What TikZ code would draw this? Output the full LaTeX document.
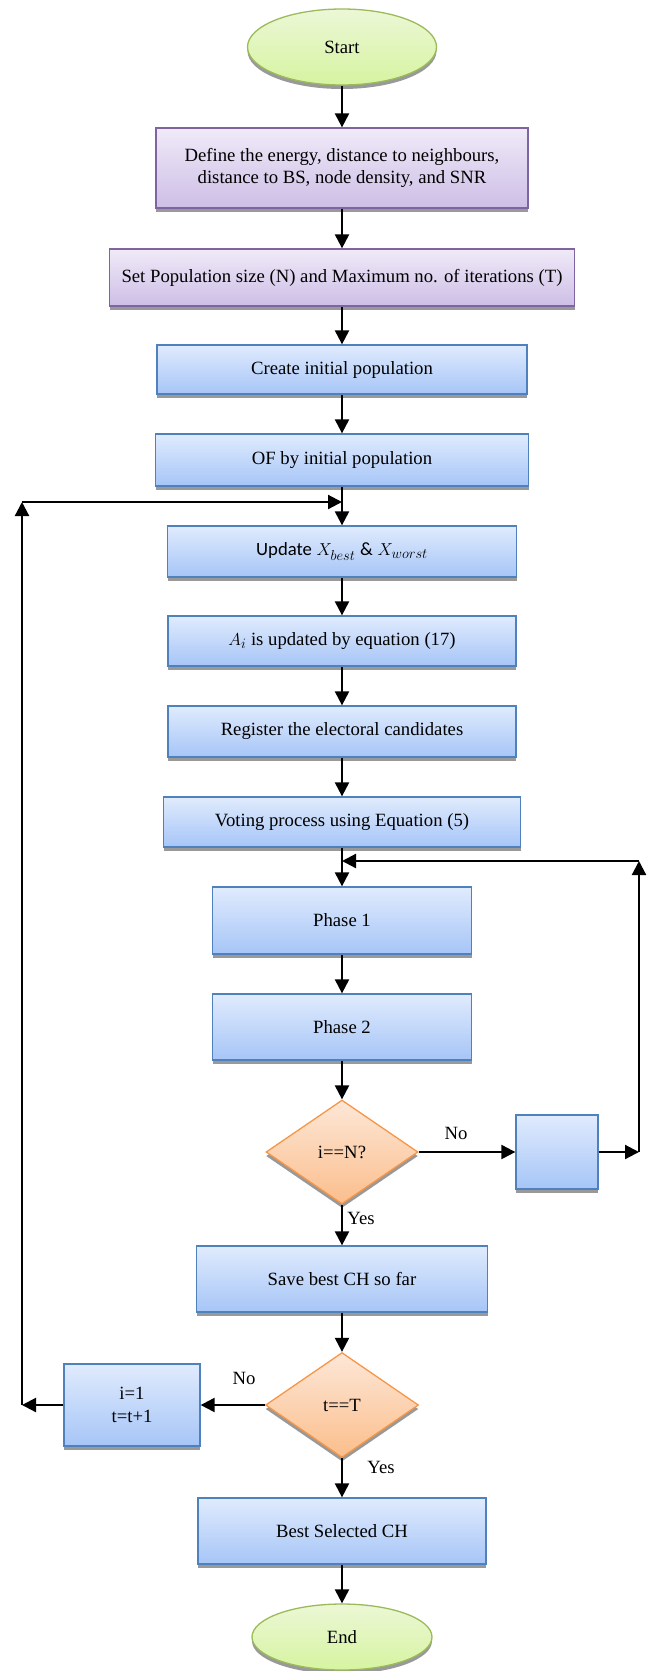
\documentclass[tikz,border=0pt]{standalone}
\usepackage{fontspec}
\setmainfont{Liberation Serif}
\newfontfamily\calfont{Carlito}
\usepackage{tikz}
\usetikzlibrary{calc, shapes.geometric, shadows, arrows.meta}
\DeclareMathSizes{18.7}{18.7}{14}{11}

\definecolor{boxline}{RGB}{79,129,189}
\definecolor{boxtop}{RGB}{224,235,253}
\definecolor{boxbot}{RGB}{166,197,247}
\definecolor{purpline}{RGB}{128,100,162}
\definecolor{purptop}{RGB}{240,234,248}
\definecolor{purpbot}{RGB}{205,190,230}
\definecolor{decline}{RGB}{247,150,70}
\definecolor{dectop}{RGB}{253,231,215}
\definecolor{decbot}{RGB}{251,190,140}
\definecolor{termline}{RGB}{155,187,89}
\definecolor{termtop}{RGB}{236,247,214}
\definecolor{termbot}{RGB}{214,244,160}

\tikzset{
  shade box/.style={drop shadow={shadow xshift=0pt, shadow yshift=-4pt, fill=black!40, opacity=1}},
  process/.style={rectangle, draw=boxline, line width=1.3pt, top color=boxtop, bottom color=boxbot, inner sep=0, shade box},
  setup/.style={rectangle, draw=purpline, line width=1.3pt, top color=purptop, bottom color=purpbot, inner sep=0, shade box},
  decision/.style={diamond, draw=decline, line width=1.3pt, top color=dectop, bottom color=decbot, inner sep=0, shade box},
  terminal/.style={ellipse, draw=termline, line width=1.3pt, top color=termtop, bottom color=termbot, inner sep=0, shade box},
  flow/.style={line width=2.2pt, -{Triangle[length=14pt,width=14pt]}}
}

\begin{document}
\begin{tikzpicture}[x=1pt, y=-1pt, font=\fontsize{18.7}{22.5}\selectfont]
\useasboundingbox (0, 0) rectangle (653, 1671);
% main column
\node at (342, 47) [name=start, terminal, minimum width=189, minimum height=76] {Start};
\node at (342, 168) [name=define, setup, minimum width=372, minimum height=80, align=center]
  {Define the energy, distance to neighbours,\\ distance to BS, node density, and SNR};
\node at (342, 277.5) [name=setpop, setup, minimum width=465, minimum height=57]
  {Set Population size (N) and Maximum no. of iterations (T)};
\node at (342, 369.5) [name=create, process, minimum width=370, minimum height=49] {Create initial population};
\node at (342, 460) [name=of, process, minimum width=373, minimum height=52] {OF by initial population};
\node at (342, 551.5) [name=update, process, minimum width=349, minimum height=51]
  {{\calfont Update} $X_{best}$ {\calfont\&} $X_{worst}$};
\node at (342, 641) [name=ai, process, minimum width=348, minimum height=50] {$A_i$ is updated by equation (17)};
\node at (342, 731.5) [name=register, process, minimum width=348, minimum height=51] {Register the electoral candidates};
\node at (342, 822) [name=voting, process, minimum width=357, minimum height=50] {Voting process using Equation (5)};
\node at (342, 920.5) [name=phase1, process, minimum width=259, minimum height=67] {Phase 1};
\node at (342, 1027) [name=phase2, process, minimum width=259, minimum height=66] {Phase 2};
\node at (342, 1152) [name=dec1, decision, minimum width=152, minimum height=104] {i==N?};
\node at (557, 1152) [name=inc, process, minimum width=82, minimum height=74] {};
\node at (342, 1279) [name=save, process, minimum width=291, minimum height=66] {Save best CH so far};
\node at (342, 1405) [name=dec2, decision, minimum width=153, minimum height=105] {t==T};
\node at (132, 1405) [name=reset, process, minimum width=136, minimum height=82, align=center] {i=1\\[1pt] t=t+1};
\node at (342, 1531) [name=best, process, minimum width=288, minimum height=66] {Best Selected CH};
\node at (342, 1637) [name=stop, terminal, minimum width=180, minimum height=66] {End};
% loop corners
\coordinate (loopIn) at (342, 502);
\coordinate (backTop) at (22, 502);
\coordinate (backBot) at (22, 1405);
\coordinate (retIn) at (342, 861);
\coordinate (retTop) at (639, 861);
\coordinate (retBot) at (639, 1152);
% labels
\node at (456, 1133) [name=no1] {No};
\node at (361, 1218) [name=yes1] {Yes};
\node at (244, 1378) [name=no2] {No};
\node at (381, 1467) [name=yes2] {Yes};
% arrows
\draw [flow] (start) -- (define);
\draw [flow] (define) -- (setpop);
\draw [flow] (setpop) -- (create);
\draw [flow] (create) -- (of);
\draw [flow] (of) -- (update);
\draw [flow] (update) -- (ai);
\draw [flow] (ai) -- (register);
\draw [flow] (register) -- (voting);
\draw [flow] (voting) -- (phase1);
\draw [flow] (phase1) -- (phase2);
\draw [flow] (phase2) -- (dec1);
\draw [flow] (dec1) -- (inc);
\draw [flow] (inc) -- (retBot);
\draw [flow] (retBot) -- (retTop);
\draw [flow] (retTop) -- (retIn);
\draw [flow] (dec1) -- (save);
\draw [flow] (save) -- (dec2);
\draw [flow] (dec2) -- (reset);
\draw [flow] (reset) -- (backBot);
\draw [flow] (backBot) -- (backTop);
\draw [flow] (backTop) -- (loopIn);
\draw [flow] (dec2) -- (best);
\draw [flow] (best) -- (stop);
\end{tikzpicture}
\end{document}
